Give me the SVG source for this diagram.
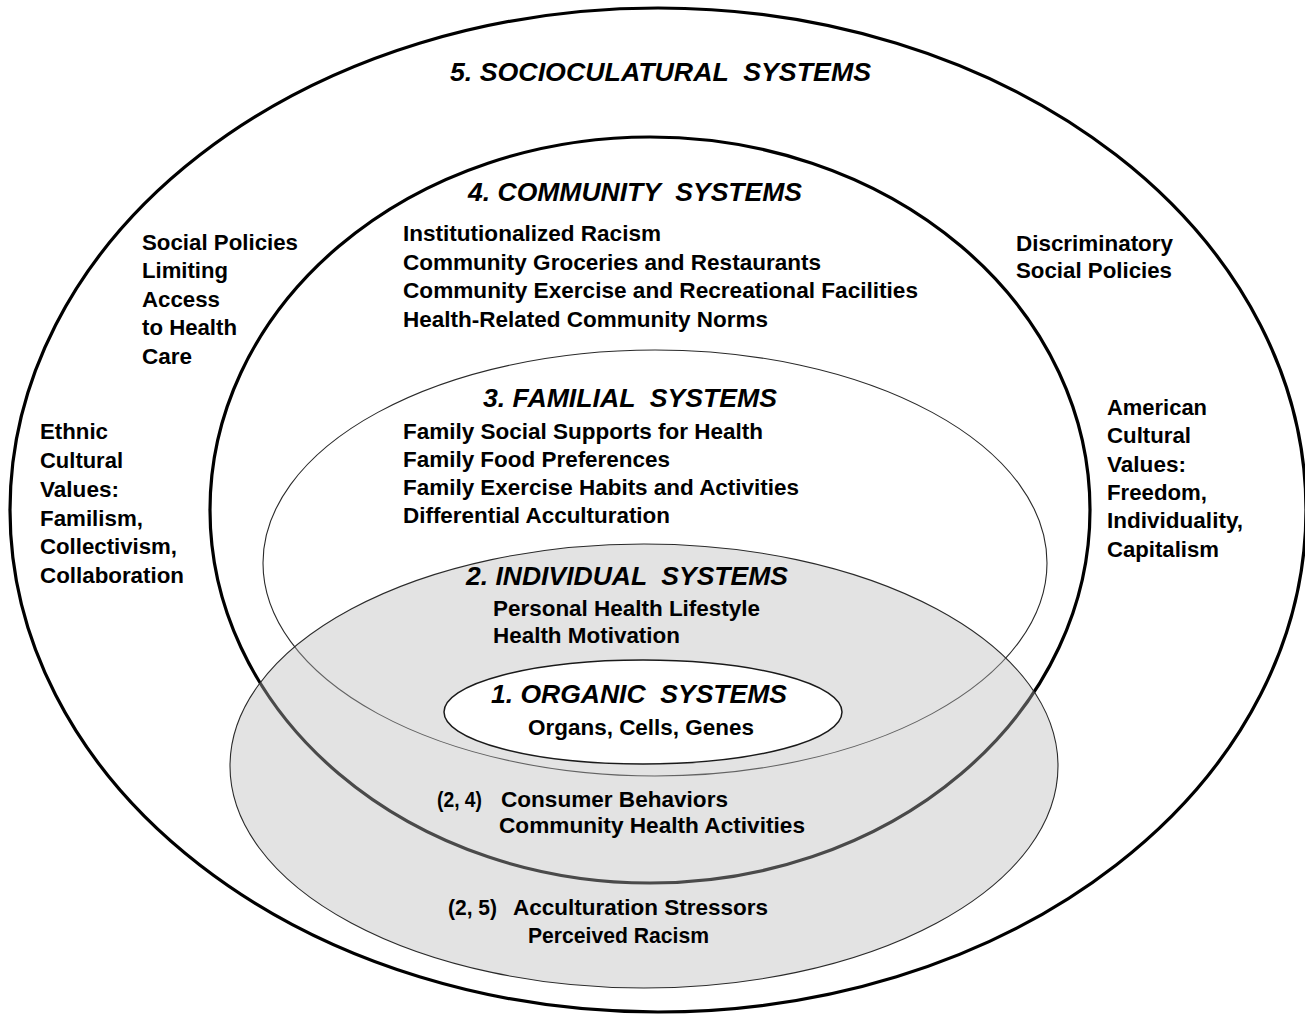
<svg xmlns="http://www.w3.org/2000/svg" width="1305" height="1015" viewBox="0 0 1305 1015">
  <style>
    .t { font-family: "Liberation Sans", Arial, Helvetica, sans-serif; font-weight: bold; font-size: 22px; fill: #000; }
    .h { font-family: "Liberation Sans", Arial, Helvetica, sans-serif; font-weight: bold; font-style: italic; font-size: 26px; fill: #000; }
    .ring-thick { fill: none; stroke: #000; stroke-width: 3.2; }
    .ring-thin { fill: none; stroke: #2a2a2a; stroke-width: 1.1; }
  </style>
  <rect width="1305" height="1015" fill="#fff"/>

  <!-- Level 5: sociocultural systems -->
  <g id="sociocultural">
    <ellipse class="ring-thick" cx="658" cy="510" rx="648" ry="502"/>
    <text class="h" x="450" y="81" textLength="421" lengthAdjust="spacingAndGlyphs" xml:space="preserve">5. SOCIOCULATURAL  SYSTEMS</text>
    <text class="t" x="142" y="250" textLength="156" lengthAdjust="spacingAndGlyphs">Social Policies</text>
    <text class="t" x="142" y="278" textLength="86" lengthAdjust="spacingAndGlyphs">Limiting</text>
    <text class="t" x="142" y="307" textLength="78" lengthAdjust="spacingAndGlyphs">Access</text>
    <text class="t" x="142" y="335" textLength="95" lengthAdjust="spacingAndGlyphs">to Health</text>
    <text class="t" x="142" y="364" textLength="50" lengthAdjust="spacingAndGlyphs">Care</text>
    <text class="t" x="40" y="439" textLength="68" lengthAdjust="spacingAndGlyphs">Ethnic</text>
    <text class="t" x="40" y="468" textLength="83" lengthAdjust="spacingAndGlyphs">Cultural</text>
    <text class="t" x="40" y="497" textLength="79" lengthAdjust="spacingAndGlyphs">Values:</text>
    <text class="t" x="40" y="526" textLength="103" lengthAdjust="spacingAndGlyphs">Familism,</text>
    <text class="t" x="40" y="554" textLength="137" lengthAdjust="spacingAndGlyphs">Collectivism,</text>
    <text class="t" x="40" y="583" textLength="144" lengthAdjust="spacingAndGlyphs">Collaboration</text>
    <text class="t" x="1016" y="251" textLength="157" lengthAdjust="spacingAndGlyphs">Discriminatory</text>
    <text class="t" x="1016" y="278" textLength="156" lengthAdjust="spacingAndGlyphs">Social Policies</text>
    <text class="t" x="1107" y="415" textLength="100" lengthAdjust="spacingAndGlyphs">American</text>
    <text class="t" x="1107" y="443" textLength="84" lengthAdjust="spacingAndGlyphs">Cultural</text>
    <text class="t" x="1107" y="472" textLength="79" lengthAdjust="spacingAndGlyphs">Values:</text>
    <text class="t" x="1107" y="500" textLength="100" lengthAdjust="spacingAndGlyphs">Freedom,</text>
    <text class="t" x="1107" y="528" textLength="136" lengthAdjust="spacingAndGlyphs">Individuality,</text>
    <text class="t" x="1107" y="557" textLength="112" lengthAdjust="spacingAndGlyphs">Capitalism</text>
  </g>

  <!-- Level 4: community systems -->
  <g id="community">
    <ellipse class="ring-thick" cx="650" cy="510" rx="440" ry="373"/>
    <text class="h" x="468" y="201" textLength="334" lengthAdjust="spacingAndGlyphs" xml:space="preserve">4. COMMUNITY  SYSTEMS</text>
    <text class="t" x="403" y="241" textLength="258" lengthAdjust="spacingAndGlyphs">Institutionalized Racism</text>
    <text class="t" x="403" y="270" textLength="418" lengthAdjust="spacingAndGlyphs">Community Groceries and Restaurants</text>
    <text class="t" x="403" y="298" textLength="515" lengthAdjust="spacingAndGlyphs">Community Exercise and Recreational Facilities</text>
    <text class="t" x="403" y="327" textLength="365" lengthAdjust="spacingAndGlyphs">Health-Related Community Norms</text>
  </g>

  <!-- Level 3: familial systems -->
  <g id="familial">
    <ellipse class="ring-thin" cx="655" cy="563" rx="392" ry="213"/>
    <text class="h" x="483" y="407" textLength="294" lengthAdjust="spacingAndGlyphs" xml:space="preserve">3. FAMILIAL  SYSTEMS</text>
    <text class="t" x="403" y="439" textLength="360" lengthAdjust="spacingAndGlyphs">Family Social Supports for Health</text>
    <text class="t" x="403" y="467" textLength="267" lengthAdjust="spacingAndGlyphs">Family Food Preferences</text>
    <text class="t" x="403" y="495" textLength="396" lengthAdjust="spacingAndGlyphs">Family Exercise Habits and Activities</text>
    <text class="t" x="403" y="523" textLength="267" lengthAdjust="spacingAndGlyphs">Differential Acculturation</text>
  </g>

  <!-- Level 2: individual systems (translucent grey disc over the outer rings) -->
  <g id="individual">
    <ellipse cx="644" cy="766" rx="414" ry="222" fill="#b8b8b8" fill-opacity="0.4" stroke="#2a2a2a" stroke-width="1.1"/>
    <text class="h" x="466" y="585" textLength="322" lengthAdjust="spacingAndGlyphs" xml:space="preserve">2. INDIVIDUAL  SYSTEMS</text>
    <text class="t" x="493" y="616" textLength="267" lengthAdjust="spacingAndGlyphs">Personal Health Lifestyle</text>
    <text class="t" x="493" y="643" textLength="187" lengthAdjust="spacingAndGlyphs">Health Motivation</text>
  </g>

  <!-- Overlap of levels 2 and 4 -->
  <g id="overlap-2-4">
    <text class="t" x="437" y="807" textLength="45" lengthAdjust="spacingAndGlyphs">(2, 4)</text>
    <text class="t" x="501" y="807" textLength="227" lengthAdjust="spacingAndGlyphs">Consumer Behaviors</text>
    <text class="t" x="499" y="833" textLength="306" lengthAdjust="spacingAndGlyphs">Community Health Activities</text>
  </g>

  <!-- Overlap of levels 2 and 5 -->
  <g id="overlap-2-5">
    <text class="t" x="448" y="915" textLength="49" lengthAdjust="spacingAndGlyphs">(2, 5)</text>
    <text class="t" x="513" y="915" textLength="255" lengthAdjust="spacingAndGlyphs">Acculturation Stressors</text>
    <text class="t" x="528" y="943" textLength="181" lengthAdjust="spacingAndGlyphs">Perceived Racism</text>
  </g>

  <!-- Level 1: organic systems -->
  <g id="organic">
    <ellipse cx="643" cy="712" rx="199" ry="52" fill="#fff" stroke="#1a1a1a" stroke-width="1.5"/>
    <text class="h" x="491" y="703" textLength="296" lengthAdjust="spacingAndGlyphs" xml:space="preserve">1. ORGANIC  SYSTEMS</text>
    <text class="t" x="528" y="735" textLength="226" lengthAdjust="spacingAndGlyphs">Organs, Cells, Genes</text>
  </g>
</svg>
